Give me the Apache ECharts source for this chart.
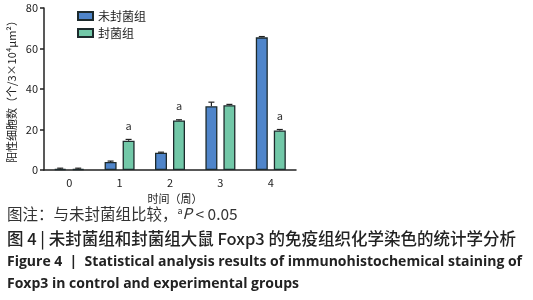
<!DOCTYPE html>
<html>
<head>
<meta charset="utf-8">
<script src="https://cdn.jsdelivr.net/npm/echarts@6/dist/echarts.min.js"></script>
<style>
  html, body { margin: 0; padding: 0; background: #fff; }
  #chart { width: 533px; height: 300px; }
</style>
</head>
<body>
<div id="chart"></div>
<script>
// 数据
const weeks = ['0', '1', '2', '3', '4']
const openGroup = [0.5, 4, 8.5, 31.5, 65.5]      // 未封菌组
const openErr = [0.4, 0.4, 0.3, 2, 0.4]
const sealedGroup = [0.5, 14.5, 24.5, 32, 19.5]  // 封菌组
const sealedErr = [0.4, 0.6, 0.3, 0.4, 0.5]
const sigMark = ['', 'a', 'a', '', 'a']
const yTicks = [0, 20, 40, 60, 80]

const chart = echarts.init(document.getElementById('chart'))
const font = '"Noto Sans CJK SC", "Noto Sans", sans-serif'

// 误差线
function errorSeries(values, errs, offset) {
  return {
    type: 'custom',
    silent: true,
    z: 5,
    data: values.map((v, i) => [i, v, v + errs[i]]),
    renderItem: function (params, api) {
      const top = api.coord([api.value(0), api.value(2)])
      const mid = api.coord([api.value(0), api.value(1)])
      const x = top[0] + offset
      return {
        type: 'group',
        children: [
          { type: 'line', shape: { x1: x, y1: mid[1], x2: x, y2: top[1] }, style: { stroke: '#222', lineWidth: 1.2 } },
          { type: 'line', shape: { x1: x - 3, y1: top[1], x2: x + 3, y2: top[1] }, style: { stroke: '#222', lineWidth: 1.2 } }
        ]
      }
    }
  }
}

const option = {
  animation: false,
  grid: { left: 44, right: 237, top: 8, bottom: 130 },
  legend: {
    orient: 'vertical',
    left: 72,
    top: 5,
    itemWidth: 15,
    itemHeight: 8,
    itemGap: 5,
    icon: 'rect',
    textStyle: { fontFamily: font, fontSize: 12, color: '#222' },
    data: ['未封菌组', '封菌组']
  },
  xAxis: {
    type: 'category',
    data: weeks,
    name: '时间（周）',
    nameLocation: 'middle',
    nameGap: 20,
    nameTextStyle: { fontFamily: font, fontSize: 11, color: '#222', padding: [0, 0, 0, 10] },
    axisLine: { lineStyle: { color: '#222', width: 1.5 } },
    axisTick: { alignWithLabel: true, length: 4, lineStyle: { color: '#222', width: 1.5 } },
    axisLabel: { fontFamily: font, fontSize: 11, color: '#222', margin: 7 }
  },
  yAxis: {
    type: 'value',
    min: yTicks[0],
    max: yTicks[yTicks.length - 1],
    interval: 20,
    name: '阳性细胞数（个/3×10⁴μm²）',
    nameLocation: 'middle',
    nameGap: 27,
    nameTextStyle: { fontFamily: font, fontSize: 11, color: '#222' },
    axisLine: { show: true, lineStyle: { color: '#222', width: 1.5 } },
    axisTick: { show: true, length: 4, lineStyle: { color: '#222', width: 1.5 } },
    axisLabel: { fontFamily: font, fontSize: 11, color: '#222', margin: 6 },
    splitLine: { show: false }
  },
  series: [
    {
      name: '未封菌组',
      type: 'bar',
      barWidth: 12,
      barGap: '50%',
      data: openGroup,
      itemStyle: { color: '#4f85ca', borderColor: '#1d2a2c', borderWidth: 1.3 }
    },
    {
      name: '封菌组',
      type: 'bar',
      barWidth: 12,
      data: sealedGroup,
      itemStyle: { color: '#72c8a8', borderColor: '#1d2a2c', borderWidth: 1.3 },
      label: {
        show: true,
        position: 'top',
        distance: 9,
        fontFamily: font,
        fontSize: 11,
        color: '#333',
        formatter: (p) => sigMark[p.dataIndex]
      }
    },
    errorSeries(openGroup, openErr, -9),
    errorSeries(sealedGroup, sealedErr, 9)
  ],
  graphic: [
    {
      type: 'text', left: 7, top: 206,
      style: {
        text: '图注：与未封菌组比较，{sup|a}{i|P} < 0.05',
        font: '15.5px ' + font, fill: '#333',
        rich: {
          sup: { fontSize: 9, verticalAlign: 'top', fill: '#333', fontFamily: font },
          i: { fontSize: 15, fontStyle: 'italic', fill: '#333', fontFamily: font }
        }
      }
    },
    { type: 'text', left: 7, top: 230, style: { text: '图 4 | 未封菌组和封菌组大鼠 Foxp3 的免疫组织化学染色的统计学分析', font: '500 16.5px ' + font, fill: '#222' } },
    { type: 'text', left: 7, top: 255, style: { text: 'Figure 4  |  Statistical analysis results of immunohistochemical staining of', font: 'bold 14px "Open Sans", sans-serif', fill: '#222' } },
    { type: 'text', left: 7, top: 277, style: { text: 'Foxp3 in control and experimental groups', font: 'bold 14px "Open Sans", sans-serif', fill: '#222' } }
  ]
}

chart.setOption(option)
</script>
</body>
</html>
